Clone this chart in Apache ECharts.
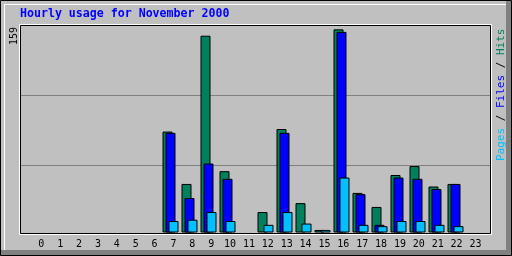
<!DOCTYPE html>
<html><head><meta charset="utf-8">
<script src="https://cdn.jsdelivr.net/npm/echarts@6/dist/echarts.min.js"></script>
<style>html,body{margin:0;padding:0;background:#c0c0c0}#c{width:512px;height:256px}</style>
</head><body><div id="c"></div>
<script>
const title = 'Hourly usage for November 2000';
const hours = ['0','1','2','3','4','5','6','7','8','9','10','11','12','13','14','15','16','17','18','19','20','21','22','23'];
const hits  = [0,0,0,0,0,0,0,79,38,154,48,0,16,81,23,2,159,31,20,45,52,36,38,0];
const files = [0,0,0,0,0,0,0,78,27,54,42,0,0,78,0,0,157,30,6,43,42,34,38,0];
const pages = [0,0,0,0,0,0,0,9,10,16,9,0,6,16,7,2,43,6,5,9,9,6,5,0];
const yTickLabels = ['159'];
const legendNames = ['Pages','Files','Hits'];

const C_HITS = '#00805c', C_FILES = '#0000ff', C_PAGES = '#00c0ff';
const nz = a => a.map(v => v === 0 ? '-' : v);
const mono = 'DejaVu Sans Mono';

function barSeries(name, data, color) {
  return {
    type: 'bar', name, data: nz(data), xAxisIndex: 0, yAxisIndex: 0,
    barWidth: 10, barGap: '-70%', silent: true,
    itemStyle: { color, borderColor: '#000', borderWidth: 1 }
  };
}

const chart = echarts.init(document.getElementById('c'), null, { renderer: 'canvas' });
chart.setOption({
  animation: false,
  backgroundColor: '#c0c0c0',
  grid: [
    { left: 28, top: 25, width: 456, height: 207.5 },
    { left: 21, top: 25, width: 469, height: 210 },
    { left: 31.9, top: 25, width: 453, height: 210 }
  ],
  xAxis: [
    { gridIndex: 0, type: 'category', data: hours, show: false },
    { gridIndex: 1, type: 'category', data: hours, show: false },
    { gridIndex: 2, type: 'category', data: hours,
      axisLine: { show: false }, axisTick: { show: false }, splitLine: { show: false },
      axisLabel: { margin: 4, color: '#000', fontFamily: mono, fontSize: 10, interval: 0 } }
  ],
  yAxis: [
    { gridIndex: 0, type: 'value', min: 0, max: 162.4, show: false },
    { gridIndex: 1, type: 'value', min: 0, max: 3, interval: 1,
      axisLine: { show: false }, axisTick: { show: false }, axisLabel: { show: false },
      splitLine: { show: true, showMinLine: false, showMaxLine: false, lineStyle: { color: '#808080', width: 1 } } },
    { gridIndex: 2, type: 'value', min: 0, max: 3, show: false }
  ],
  series: [
    barSeries(legendNames[2], hits, C_HITS),
    barSeries(legendNames[1], files, C_FILES),
    barSeries(legendNames[0], pages, C_PAGES)
  ],
  graphic: [
    { type: 'rect', z: 100, silent: true, shape: { x: 506, y: 1, width: 5, height: 254 }, style: { fill: '#808080' } },
    { type: 'rect', z: 100, silent: true, shape: { x: 1, y: 250, width: 510, height: 5 }, style: { fill: '#808080' } },
    { type: 'line', z: 100, silent: true, shape: { x1: 4, y1: 4.5, x2: 506, y2: 4.5 }, style: { stroke: '#fff', lineWidth: 1 } },
    { type: 'line', z: 100, silent: true, shape: { x1: 4.5, y1: 4, x2: 4.5, y2: 250 }, style: { stroke: '#fff', lineWidth: 1 } },
    { type: 'rect', z: 101, silent: true, shape: { x: 0.5, y: 0.5, width: 511, height: 255 }, style: { fill: null, stroke: '#000', lineWidth: 1 } },
    { type: 'rect', z: 100, silent: true, shape: { x: 19.5, y: 24.5, width: 472, height: 210 }, style: { fill: null, stroke: '#fff', lineWidth: 1 } },
    { type: 'rect', z: 101, silent: true, shape: { x: 20.5, y: 25.5, width: 470, height: 208 }, style: { fill: null, stroke: '#000', lineWidth: 1 } },
    { type: 'text', z: 102, silent: true, x: 20, y: 8,
      style: { text: title, fill: '#0000ff', font: 'bold 11.6px "DejaVu Sans Mono"', textAlign: 'left', textVerticalAlign: 'top' } },
    { type: 'text', z: 102, silent: true, x: 14, y: 27, rotation: Math.PI / 2,
      style: { text: yTickLabels[0], fill: '#000', font: '10px "DejaVu Sans Mono"', textAlign: 'right', textVerticalAlign: 'middle' } },
    { type: 'text', z: 102, silent: true, x: 501, y: 161, rotation: Math.PI / 2,
      style: {
        text: '{p|' + legendNames[0] + '}{s| / }{f|' + legendNames[1] + '}{s| / }{h|' + legendNames[2] + '}',
        font: '11px "DejaVu Sans Mono"', textAlign: 'left', textVerticalAlign: 'middle',
        rich: {
          p: { fill: C_PAGES, font: '11px "DejaVu Sans Mono"' },
          s: { fill: '#000', font: '11px "DejaVu Sans Mono"' },
          f: { fill: C_FILES, font: '11px "DejaVu Sans Mono"' },
          h: { fill: C_HITS, font: '11px "DejaVu Sans Mono"' }
        }
      } }
  ]
});
</script></body></html>
